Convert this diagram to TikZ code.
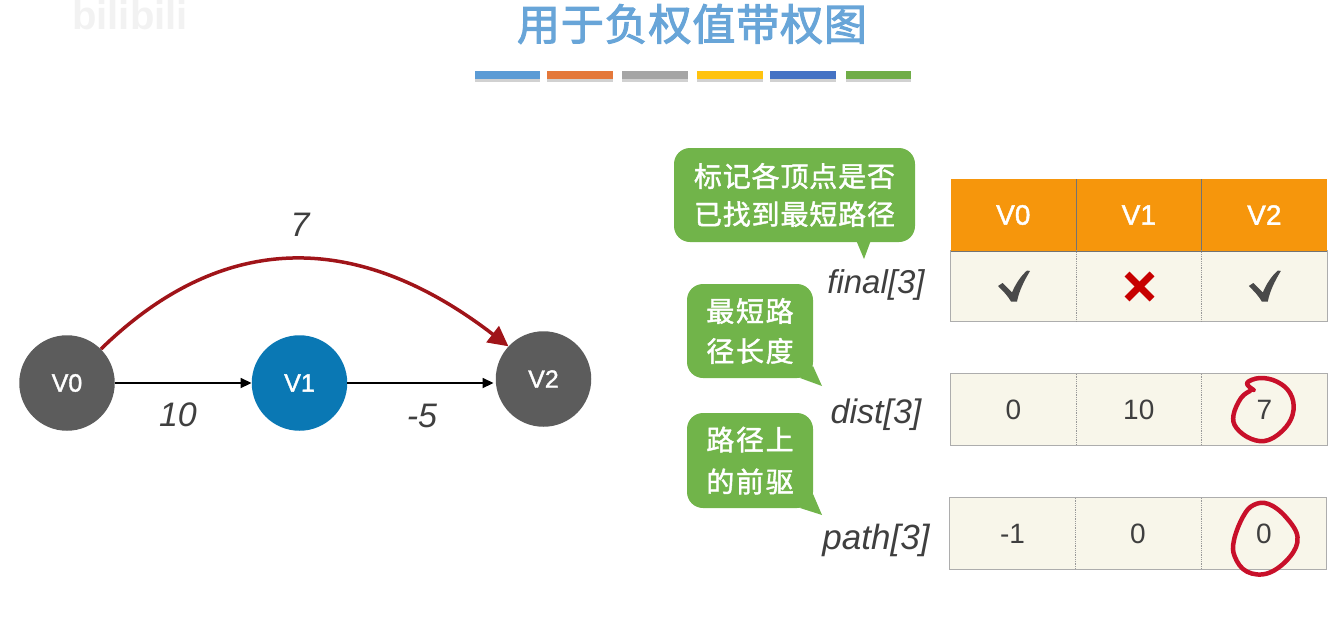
\documentclass[tikz,border=0pt]{standalone}
\usepackage{fontspec}
\setmainfont{Liberation Sans}
\newfontfamily\medf[FakeBold=1.5]{Liberation Sans}
\newfontfamily\cjk[LetterSpace=3,FakeBold=1.5]{Noto Sans CJK SC}
\newfontfamily\cjkb[LetterSpace=6,FakeBold=1.5]{Noto Sans CJK SC}
\newfontfamily\cjkt[LetterSpace=2,FakeBold=2.5]{Noto Sans CJK SC}
\usetikzlibrary{arrows.meta,calc}
\definecolor{gnode}{HTML}{5C5C5C}
\definecolor{bnode}{HTML}{0A78B4}
\definecolor{redge}{HTML}{A01419}
\definecolor{bubg}{HTML}{71B44A}
\definecolor{hdr}{HTML}{F6960C}
\definecolor{cellc}{HTML}{F8F6EA}
\definecolor{ttl}{HTML}{68A5D8}
\definecolor{ink}{HTML}{3F3F3F}
\definecolor{circ}{HTML}{C8102A}
\newcommand{\fs}[1]{\fontsize{#1}{#1}\selectfont}
\newcommand{\dn}[1]{\raisebox{-2pt}{#1}}
\tikzset{
 x=1pt,y=-1pt,
 gnodest/.style={circle,fill=#1,minimum size=95.5pt,inner sep=0pt,text=white,font=\fs{25}\medf},
 blackedge/.style={-{Triangle[length=11pt,width=10pt]},line width=1.7pt,black},
 elabel/.style={font=\fs{34}\itshape,text=ink,inner sep=0pt},
 arrname/.style={font=\fs{33}\itshape,text=ink,inner sep=0pt},
 hcell/.style={rectangle,fill=hdr,minimum width=125.5pt,minimum height=71.5pt,inner sep=0pt,text=white,font=\fs{28}\medf},
 bcell/.style={rectangle,fill=cellc,minimum width=125.5pt,minimum height=71pt,inner sep=0pt,text=ink,font=\fs{28}},
 tblframe/.style={draw=black!32,line width=1pt},
 dotdiv/.style={draw=black!40,line width=.8pt,densely dotted},
 hdiv/.style={draw=black!55,line width=.8pt},
 bubble/.style={rectangle,rounded corners=16pt,fill=bubg,text=white,inner sep=0pt,align=center},
 bubtail/.style={fill=bubg},
 bar/.style={fill=#1},
 barsh/.style={fill=black!18},
 hand/.style={draw=circ,line width=4.5pt,line join=round,line cap=round},
 chk/.style={fill=ink!95},
 xmark/.style={draw=red!78!black,line width=7pt},
}
\begin{document}
\begin{tikzpicture}
\useasboundingbox (0,0) rectangle (1332,638);
% watermark
\node[font=\fs{40}\bfseries,text=black!5,inner sep=0pt] (wm) at (130,15) {bilibili};
% title
\node[font=\fs{43}\cjkt,text=ttl,inner sep=0pt] (title) at (692,24) {用于负权值带权图};
\foreach \a/\b/\c in {475/540/5B9BD5,547/613/E4783A,622/688/A5A5A5,697/763/FFC30F,770/836/4472C4,846/911/70AD47}{
  \definecolor{tmpc}{HTML}{\c}
  \fill[barsh] (\a,72) rectangle (\b,82);
  \fill[bar=tmpc] (\a,71) rectangle (\b,79);
}
% graph
\node[gnodest=gnode] (V0) at (67,383) {V0};
\node[gnodest=bnode] (V1) at (299.5,383) {V1};
\node[gnodest=gnode] (V2) at (543.5,379) {V2};
\draw[blackedge] (V0.east) -- (V1.west);
\draw[blackedge,shorten >=2pt] (V1.east) -- (V1.east -| V2.west);
\draw[redge,line width=3.5pt,-{Triangle[length=20pt,width=20pt]}] (V0.45) .. controls (225,228) and (360,232) .. (V2.137);
\node[elabel] (w7) at (300,225) {7};
\node[elabel] (w10) at (178,415) {10};
\node[elabel] (w5) at (422,416) {-5};
% tables
\node[hcell] (h0) at (1013.3,215) {\raisebox{-1pt}{V0}};
\node[hcell] (h1) at (1138.8,215) {\raisebox{-1pt}{V1}};
\node[hcell] (h2) at (1264.3,215) {\raisebox{-1pt}{V2}};
\node[bcell] (f0) at (1013.3,286) {};
\node[bcell] (f1) at (1138.8,286) {};
\node[bcell] (f2) at (1264.3,286) {};
\node[bcell] (d0) at (1013.3,409.5) {\dn{0}};
\node[bcell] (d1) at (1138.8,409.5) {\dn{10}};
\node[bcell] (d2) at (1264.3,409.5) {\dn{7}};
\node[bcell] (p0) at (1012.5,533.5) {\dn{-1}};
\node[bcell] (p1) at (1138,533.5) {\dn{0}};
\node[bcell] (p2) at (1264,533.5) {\dn{0}};
\draw[hdiv] (h0.north east) -- (h0.south east);
\draw[hdiv] (h1.north east) -- (h1.south east);
\draw[hdiv] (h0.south west) -- (h2.south east);
\draw[tblframe] (f0.north west) -- (f0.south west) -- (f2.south east) -- (f2.north east);
\draw[dotdiv] (f0.north east) -- (f0.south east);
\draw[dotdiv] (f1.north east) -- (f1.south east);
\draw[tblframe] (d0.north west) rectangle (d2.south east);
\draw[dotdiv] (d0.north east) -- (d0.south east);
\draw[dotdiv] (d1.north east) -- (d1.south east);
\draw[tblframe] (p0.north west) rectangle (p2.south east);
\draw[dotdiv] (p0.north east) -- (p0.south east);
\draw[dotdiv] (p1.north east) -- (p1.south east);
% marks
\foreach \dx in {0,250.8}{
  \fill[chk,shift={(\dx,0)}] (998,286) -- (1002.5,283) -- (1012,292.5) .. controls (1016,283) and (1021,276) .. (1027,270.5) -- (1030,271) .. controls (1024,281) and (1019,291) .. (1017,301.5) -- (1011,301.5) .. controls (1008,296) and (1003,291) .. cycle;
}
\draw[xmark] (1127,274) -- (1152,299);
\draw[xmark] (1152,274) -- (1127,299);
% hand circles
\draw[hand] plot[smooth,tension=.65] coordinates {(1253.6,390) (1247,383) (1260,378) (1277,381.7) (1290,393) (1293.5,410) (1286,427) (1268.6,440) (1251.5,439) (1236.5,428) (1233.5,415) (1241,398) (1250,391)};
\draw[hand] plot[smooth cycle,tension=.65] coordinates {(1253.6,505) (1268.6,504) (1285.8,517) (1297.5,537) (1290,556.7) (1268.6,573) (1247,571.7) (1234.8,556.7) (1234,540) (1243,516.7)};
% array names
\node[arrname] (nf) at (876,285) {final[3]};
\node[arrname,font=\fs{34}\itshape] (nd) at (876,415) {dist[3]};
\node[arrname,font=\fs{35}\itshape] (np) at (876,540) {path[3]};
% bubbles
\node[bubble,minimum width=241pt,minimum height=94pt,font=\fontsize{28}{38}\selectfont\cjk] (b1) at (794.5,195) {标记各顶点是否\\已找到最短路径};
\fill[bubtail] (856,240) -- (864,259) -- (871,240) -- cycle;
\node[bubble,minimum width=126pt,minimum height=94pt,font=\fontsize{28}{40}\selectfont\cjkb] (b2) at (750,331) {最短路\\径长度};
\fill[bubtail] (800,378) -- (822,386) -- (813,366) -- cycle;
\node[bubble,minimum width=126pt,minimum height=95pt,font=\fontsize{28}{42}\selectfont\cjkb] (b3) at (750,460.5) {路径上\\的前驱};
\fill[bubtail] (800,508) -- (822,515) -- (813,494) -- cycle;
\end{tikzpicture}
\end{document}
